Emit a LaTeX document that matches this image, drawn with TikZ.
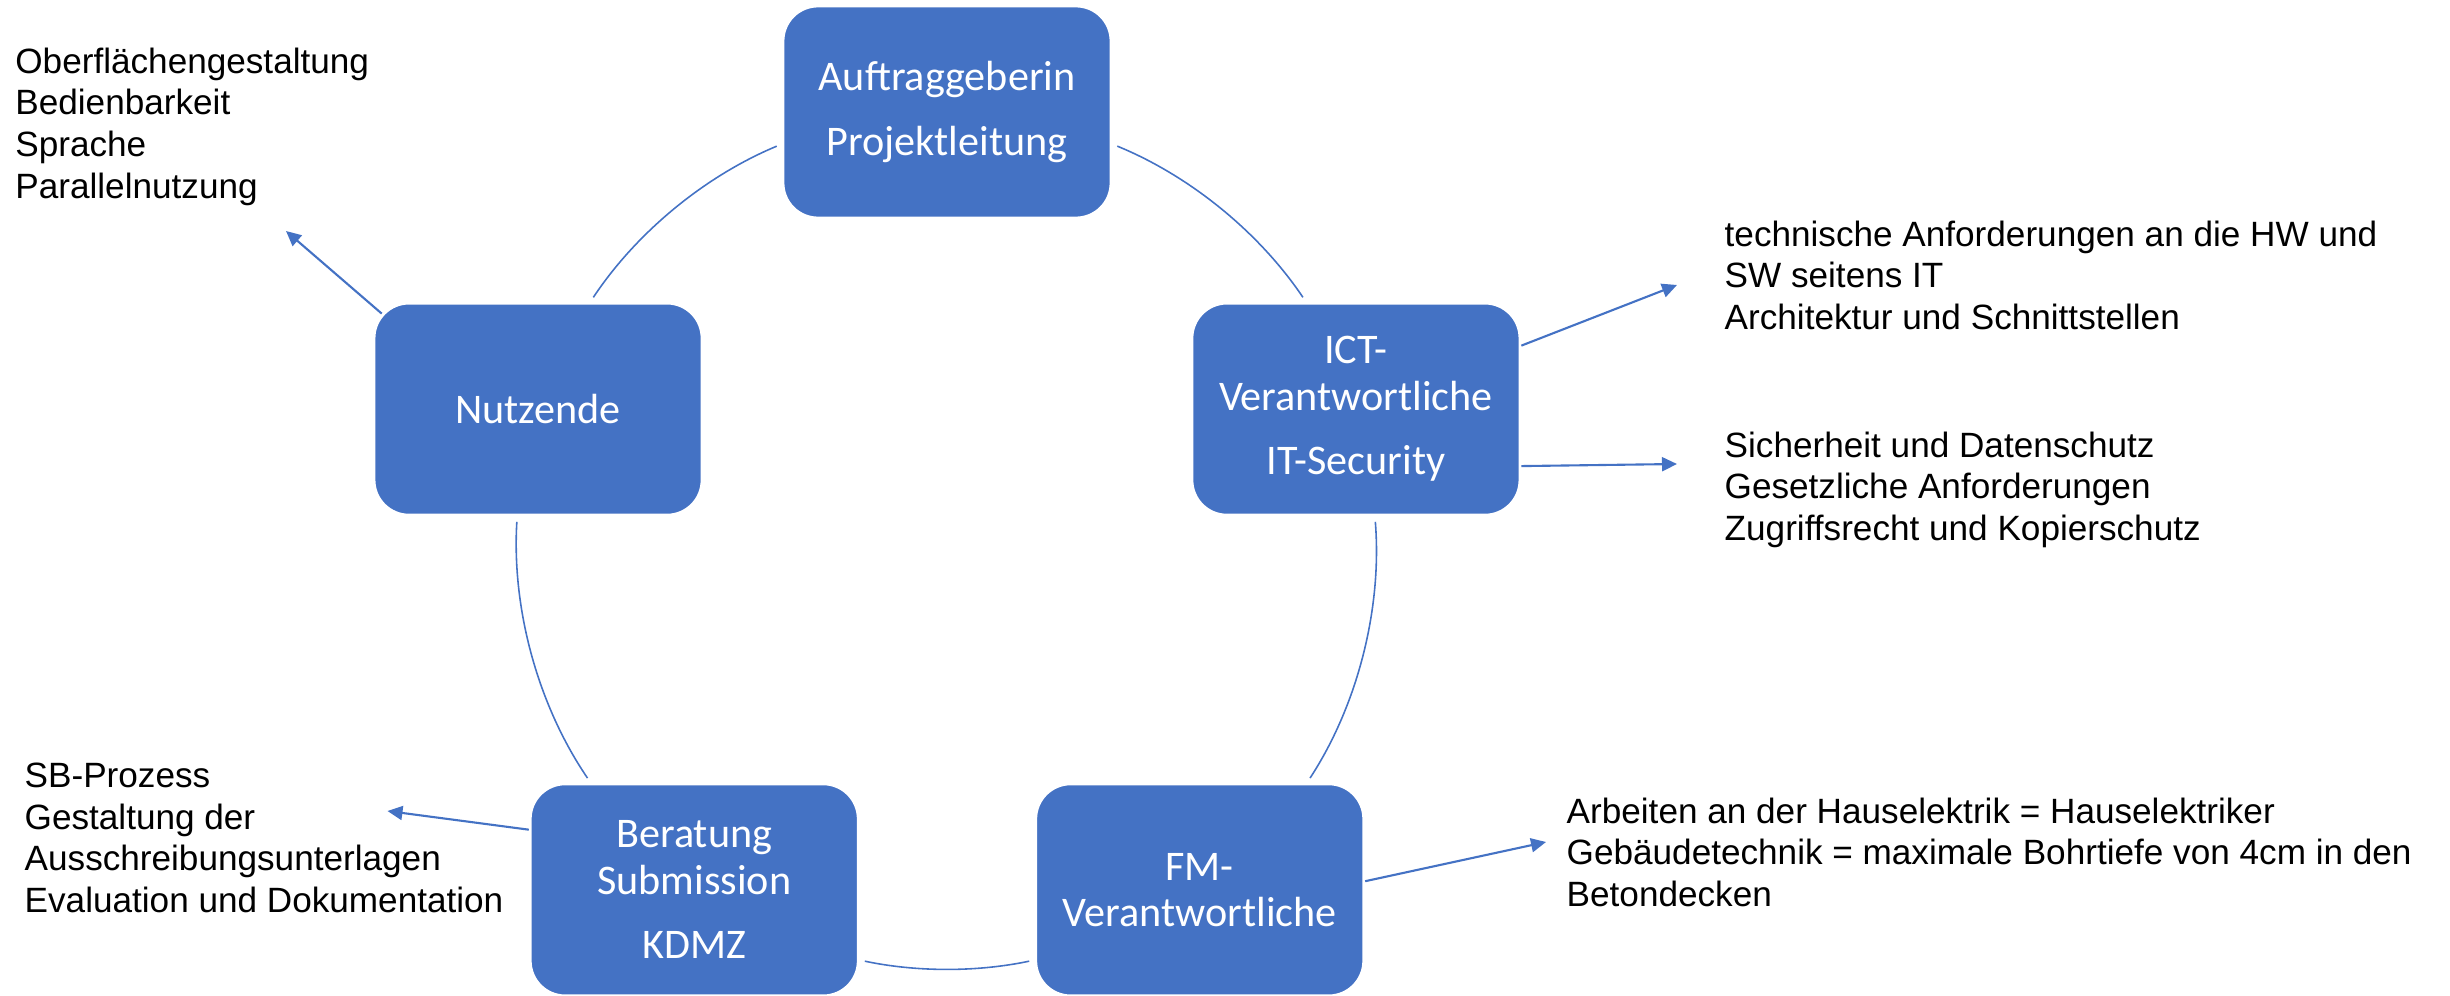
\documentclass[tikz,border=0pt]{standalone}
\usepackage{fontspec}
\setmainfont{Liberation Sans}
\newfontfamily\boxfont{Carlito}
\usetikzlibrary{arrows.meta}
\definecolor{officeblue}{HTML}{4472C4}

\begin{document}
\begin{tikzpicture}
	\tikzstyle{stage} = [draw=white, line width=0.8pt, fill=officeblue, rounded corners=0.35cm, minimum width=3.28cm, minimum height=2.12cm, inner sep=0pt, align=center, text=white, font=\boxfont\fontsize{12}{13.2}\selectfont]
	\tikzstyle{note} = [anchor=north west, inner sep=0pt, align=left, font=\fontsize{10}{11.9}\selectfont]
	\tikzstyle{ring} = [officeblue, line width=0.45pt, looseness=0.86, shorten <=1.5pt, shorten >=1.5pt]
	\tikzstyle{feed} = [officeblue, line width=0.6pt, -{Triangle[length=1.5mm, width=1.4mm]}]
	\useasboundingbox (0,0) rectangle (24.5,9.95);
	\coordinate (mid) at (9.47,4.53);
	
	\node[stage] (auftrag) at ([shift={(90:4.3)}]mid) {Auftraggeberin\\[5.2pt]Projektleitung}; \node[stage] (ict) at ([shift={(18:4.3)}]mid) {ICT-\\Verantwortliche\\[5.2pt]IT-Security}; \node[stage] (fm) at ([shift={(306:4.3)}]mid) {FM-\\Verantwortliche}; \node[stage] (beratung) at ([shift={(234:4.3)}]mid) {Beratung\\Submission\\[5.2pt]KDMZ}; \node[stage] (nutzende) at ([shift={(162:4.3)}]mid) {Nutzende};
	
	\draw[ring] (auftrag.191.2) to[bend right=16.9] (nutzende.64.1); \draw[ring] (auftrag.-11.2) to[bend left=16.9] (ict.115.9); \draw[ring] (ict.280.8) to[bend left=18.9] (fm.45.9); \draw[ring] (nutzende.259.2) to[bend right=18.9] (beratung.134.1); \draw[ring] (beratung.-23.95) to[bend right=11.9] (fm.203.95);
	
	\node[note] (nutzList) at (0.147,9.48) {Oberflächengestaltung\\Bedienbarkeit\\Sprache\\Parallelnutzung}; \node[note] (ictListA) at (17.24,7.75) {technische Anforderungen an die HW und\\SW seitens IT\\Architektur und Schnittstellen}; \node[note] (ictListB) at (17.24,5.64) {Sicherheit und Datenschutz\\Gesetzliche Anforderungen\\Zugriffsrecht und Kopierschutz}; \node[note] (beratList) at (0.24,2.33) {SB-Prozess\\Gestaltung der\\Ausschreibungsunterlagen\\Evaluation und Dokumentation}; \node[note] (fmList) at (15.66,1.98) {Arbeiten an der Hauselektrik = Hauselektriker\\Gebäudetechnik = maximale Bohrtiefe von 4cm in den\\Betondecken};
	
	\coordinate (nutzTip) at (2.86,7.64); \coordinate (ictTipA) at (16.77,7.10); \coordinate (ictTipB) at (16.77,5.31); \coordinate (beratTip) at (3.875,1.84); \coordinate (fmTip) at (15.46,1.53);
	\draw[feed, shorten <=-1.2mm] (nutzende.148) -- (nutzTip); \draw[feed] (ict.21.35) -- (ictTipA); \draw[feed] (ict.-19.1) -- (ictTipB); \draw[feed] (beratung.160.8) -- (beratTip); \draw[feed] (fm.3.1) -- (fmTip);
\end{tikzpicture}
\end{document}
